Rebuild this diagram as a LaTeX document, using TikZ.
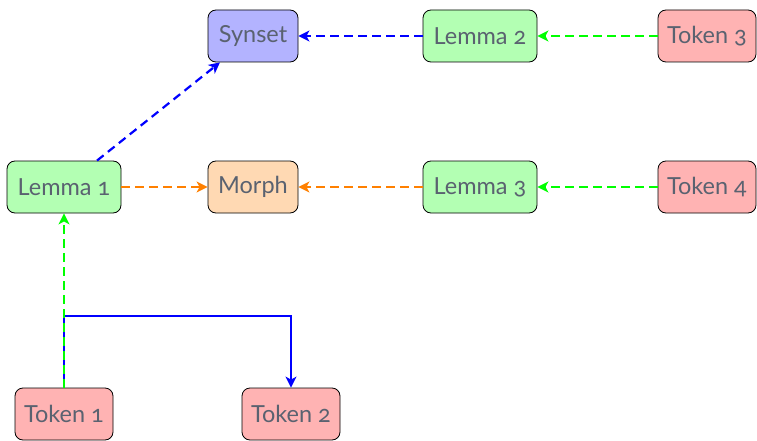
\documentclass[tikz,border=0pt]{standalone}
\usepackage{fontspec}
\setmainfont[Numbers=OldStyle]{Lato}
\usetikzlibrary{arrows.meta}
\definecolor{txt}{RGB}{90,98,112}
\definecolor{synfill}{RGB}{179,179,255}
\definecolor{lemfill}{RGB}{179,255,179}
\definecolor{tokfill}{RGB}{255,179,179}
\definecolor{morfill}{RGB}{255,217,179}
\definecolor{eblue}{RGB}{0,0,255}
\definecolor{egreen}{RGB}{0,255,0}
\definecolor{eorange}{RGB}{255,128,0}
\tikzset{
  box/.style={draw=black, line width=0.8pt, rounded corners=8pt, minimum height=52pt, inner sep=0pt, text=txt, font=\fontsize{23.5}{27}\selectfont},
  synbox/.style={box, fill=synfill, minimum width=90pt},
  morbox/.style={box, fill=morfill, minimum width=90pt},
  lembox/.style={box, fill=lemfill, minimum width=114pt},
  tokbox/.style={box, fill=tokfill, minimum width=98pt},
  edge/.style={line width=2.2pt, -{Stealth[length=11pt,width=11pt,inset=3pt]}},
  dedge/.style={edge, dash pattern=on 8.5pt off 5.5pt},
}
\begin{document}
\begin{tikzpicture}[x=1pt,y=-1pt]
\useasboundingbox (0,0) rectangle (757,441);
\node[synbox] (syn) at (253,36) {Synset};
\node[lembox] (l2) at (480,36) {Lemma 2};
\node[tokbox] (t3) at (707,36) {Token 3};
\node[lembox] (l1) at (64,187) {Lemma 1};
\node[morbox] (mor) at (253,187) {Morph};
\node[lembox] (l3) at (480,187) {Lemma 3};
\node[tokbox] (t4) at (707,187) {Token 4};
\node[tokbox] (t1) at (64,414) {Token 1};
\node[tokbox] (t2) at (291,414) {Token 2};
\coordinate (k1) at (64,316);
\coordinate (k2) at (291,316);
\draw[edge, eblue, line width=1.8pt] (t1.north) -- (k1) -- (k2) -- (t2.north);
\draw[dedge, egreen] (t1.north) -- (l1.south);
\draw[dedge, eblue] (l2) -- (syn);
\draw[dedge, egreen] (t3) -- (l2);
\draw[dedge, eblue] (l1) -- (syn);
\draw[dedge, eorange] (l1) -- (mor);
\draw[dedge, eorange] (l3) -- (mor);
\draw[dedge, egreen] (t4) -- (l3);
\end{tikzpicture}
\end{document}
